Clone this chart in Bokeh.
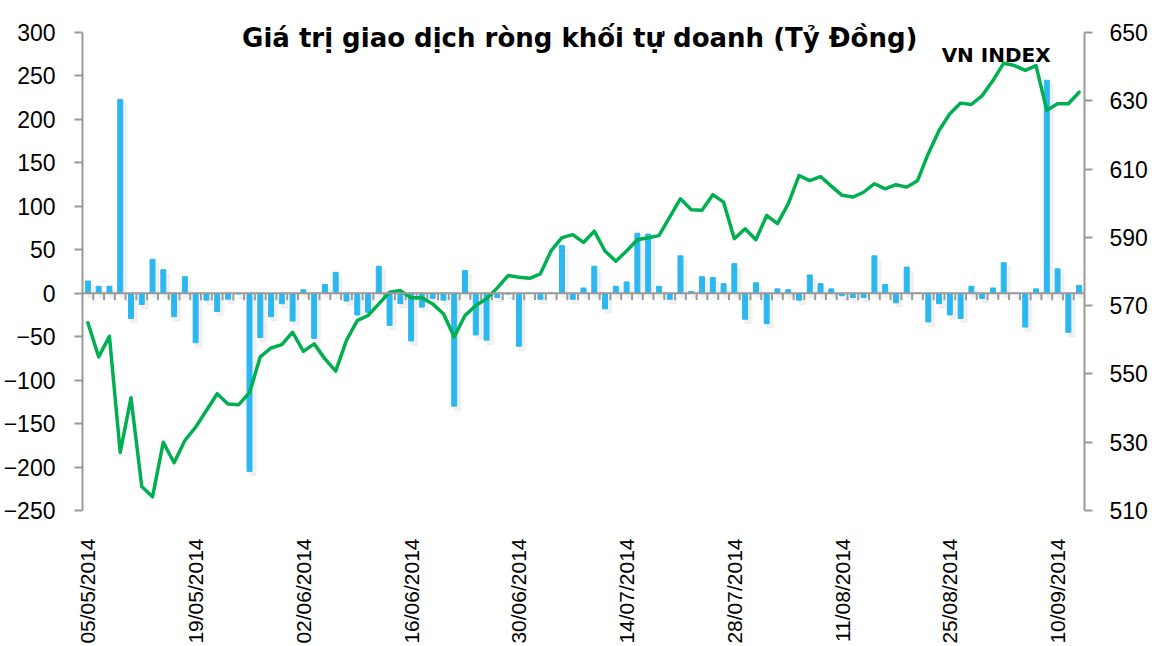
import math
from bokeh.plotting import figure
from bokeh.models import Range1d, LinearAxis, FixedTicker, Span, Label
from bokeh.embed import file_html
from bokeh.resources import INLINE

# ---- data ----
tick_idx = [0, 10, 20, 30, 40, 50, 60, 70, 80, 90]
tick_labels = ["05/05/2014", "19/05/2014", "02/06/2014", "16/06/2014", "30/06/2014",
               "14/07/2014", "28/07/2014", "11/08/2014", "25/08/2014", "10/09/2014"]

# net trading value of proprietary traders (billion VND), one per trading day
net_value = [14, 8, 8, 223, -29, -13, 39, 27, -27, 19,
             -57, -8, -21, -7, -1, -205, -51, -27, -12, -32,
             4, -52, 10, 24, -9, -25, -22, 31, -37, -12,
             -55, -16, -6, -8, -130, 26, -48, -54, -5, -1,
             -61, 0, -7, 0, 55, -7, 6, 31, -18, 8,
             13, 69, 68, 8, -7, 43, 2, 19, 18, 11,
             34, -30, 12, -35, 5, 4, -8, 21, 11, 5,
             -3, -5, -5, 43, 10, -11, 30, 0, -33, -12,
             -25, -29, 8, -6, 6, 35, 0, -39, 5, 245,
             28, -45, 9]

# VN INDEX close, one per trading day
vn_index = [565, 555, 561, 527, 543, 517, 514, 530, 524, 530.5,
            534.4, 539.3, 544.2, 541.2, 541, 544.5, 555, 557.6, 558.6, 562.2,
            556.6, 558.8, 554.4, 550.8, 559.8, 565.6, 567.1, 570.5, 573.9, 574.4,
            572.3, 572.3, 570.5, 567.6, 560.8, 567.1, 570, 572, 575.2, 578.8,
            578.3, 578, 579.3, 586.1, 589.9, 590.8, 588.5, 591.8, 586, 583,
            586, 589.3, 589.9, 590.5, 595.9, 601.3, 598.1, 597.9, 602.5, 600.3,
            589.6, 592.5, 589.3, 596.4, 594, 599.8, 608.1, 606.6, 607.8, 605,
            602.3, 601.8, 603.2, 605.7, 604.2, 605.4, 604.7, 606.6, 614.5, 621.3,
            626.2, 629.3, 628.9, 631.5, 635.9, 641, 640.3, 638.9, 640.3, 627.2,
            629.1, 629.1, 632.5]

title_text = "Giá trị giao dịch ròng khối tự doanh (Tỷ Đồng)"
series_label = "VN INDEX"

left_min, left_max, left_step = -250, 300, 50
right_min, right_max, right_step = 510, 650, 20
left_ticks = list(range(left_min, left_max + 1, left_step))
right_ticks = list(range(right_min, right_max + 1, right_step))

n = len(net_value)
idx = list(range(n))

# ---- layout geometry (pixels) ----
W, H = 1152, 646
FRAME_L, FRAME_R = 78, 1084
FRAME_BOTTOM = 511          # y of the lowest tick
AXIS_TOP = 32               # y of the highest tick
axis_px = FRAME_BOTTOM - AXIS_TOP
# extend the ranges above the top tick so the title can sit inside the frame
left_top = left_max + AXIS_TOP * (left_max - left_min) / axis_px
right_top = right_max + AXIS_TOP * (right_max - right_min) / axis_px

AXIS_COLOR = "#9a9a9a"
BAR_COLOR = "#2bb7ef"
LINE_COLOR = "#00b050"
TICK_FONT = "Liberation Sans"

p = figure(width=W, height=H, output_backend="svg", toolbar_location=None,
           x_range=Range1d(-0.5, n - 0.5), y_range=Range1d(left_min, left_top),
           min_border_left=FRAME_L, min_border_right=W - FRAME_R, min_border_top=0,
           min_border_bottom=H - FRAME_BOTTOM)
p.extra_y_ranges = {"right": Range1d(right_min, right_top)}
p.xgrid.visible = False
p.ygrid.visible = False
p.outline_line_color = None
p.background_fill_color = "white"
p.border_fill_color = "white"

# left axis
ya = p.yaxis[0]
ya.ticker = FixedTicker(ticks=left_ticks)
ya.bounds = (left_min, left_max)
ya.axis_line_color = AXIS_COLOR
ya.axis_line_width = 2
ya.major_tick_line_color = AXIS_COLOR
ya.major_tick_line_width = 2
ya.major_tick_in = 0
ya.major_tick_out = 8
ya.minor_tick_line_color = None
ya.major_label_text_font = TICK_FONT
ya.major_label_text_font_size = "23px"
ya.major_label_text_color = "black"
ya.major_label_standoff = 19

# right axis
ra = LinearAxis(y_range_name="right", ticker=FixedTicker(ticks=right_ticks),
                bounds=(right_min, right_max))
ra.axis_line_color = AXIS_COLOR
ra.axis_line_width = 2
ra.major_tick_line_color = AXIS_COLOR
ra.major_tick_line_width = 2
ra.major_tick_in = 0
ra.major_tick_out = 8
ra.minor_tick_line_color = None
ra.major_label_text_font = TICK_FONT
ra.major_label_text_font_size = "23px"
ra.major_label_text_color = "black"
ra.major_label_standoff = 17
p.add_layout(ra, "right")

# bottom (date) axis, labels read bottom-to-top
xa = p.xaxis[0]
xa.ticker = FixedTicker(ticks=tick_idx)
xa.major_label_overrides = {i: lab for i, lab in zip(tick_idx, tick_labels)}
xa.major_label_orientation = math.pi / 2
xa.axis_line_color = None
xa.major_tick_line_color = None
xa.minor_tick_line_color = None
xa.major_label_text_font = TICK_FONT
xa.major_label_text_font_size = "21px"
xa.major_label_text_color = "black"
xa.major_label_standoff = 22

# soft bar shadows
sh_x = [i + 0.3 for i in idx]
sh_top = [v - 5 for v in net_value]
p.vbar(x=sh_x, top=sh_top, bottom=-5, width=0.75, color="black", alpha=0.02)
p.vbar(x=sh_x, top=sh_top, bottom=-5, width=0.5, color="black", alpha=0.035)

# bars
p.vbar(x=idx, top=net_value, bottom=0, width=0.46, color=BAR_COLOR)

# category axis at zero with boundary ticks
p.add_layout(Span(location=0, dimension="width", line_color=AXIS_COLOR, line_width=2))
bnd = [i + 0.5 for i in idx[:-1]]
p.segment(x0=bnd, y0=[0] * len(bnd), x1=bnd, y1=[-8] * len(bnd),
          line_color=AXIS_COLOR, line_width=2)

# VN INDEX line
p.line(idx, vn_index, y_range_name="right", line_color=LINE_COLOR, line_width=3.5,
       line_join="round", line_cap="round")

# titles
p.add_layout(Label(x=45.65, y=293.1, text=title_text, text_font="DejaVu Sans",
                   text_font_style="bold", text_font_size="26px", text_color="black",
                   text_align="center", text_baseline="alphabetic"))
p.add_layout(Label(x=84.3, y=643.3, y_range_name="right", text=series_label,
                   text_font="DejaVu Sans", text_font_style="bold", text_font_size="20px",
                   text_color="black", text_align="center", text_baseline="alphabetic"))

open("out.html", "w").write(file_html(p, INLINE))
